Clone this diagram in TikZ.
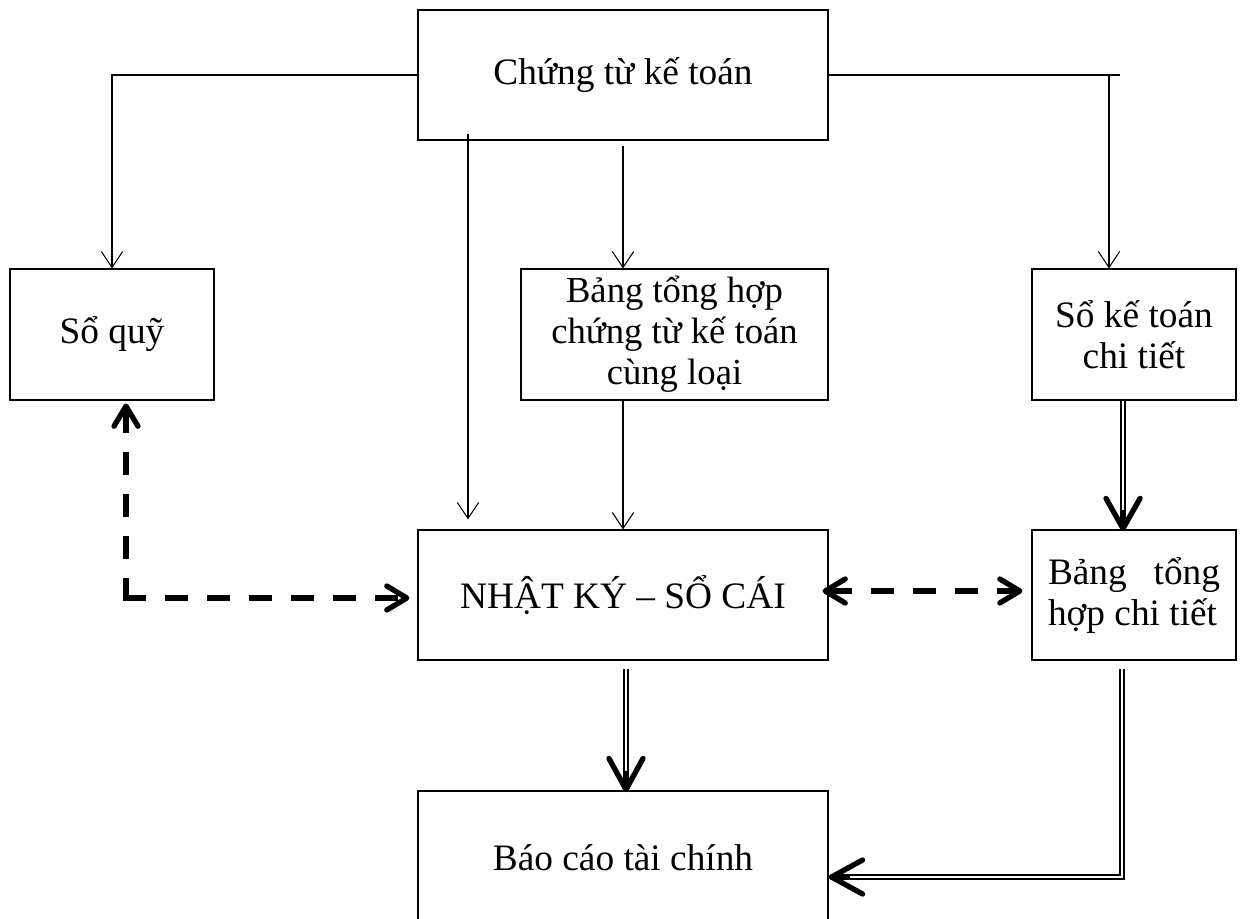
\documentclass[tikz,border=0pt]{standalone}
\usepackage{fontspec}
\setmainfont{Liberation Serif}
\usetikzlibrary{arrows.meta,calc}
\begin{document}
\begin{tikzpicture}[x=0.75pt,y=-0.75pt,
  box/.style={draw,line width=0.8pt,inner sep=0pt,align=center,font=\fontsize{28}{30.75}\selectfont},
  thinline/.style={line width=0.8pt},
  thinarrow/.style={line width=0.8pt,-{Straight Barb[length=12pt,width=16pt]}},
  dbl/.style={double,double distance=2pt,line width=1.4pt},
  barb/.style={line width=4pt,line cap=round,line join=round},
  dasharrow/.style={line width=4pt,line cap=rect,dash pattern=on 13.25pt off 18.25pt,
    >={Straight Barb[round,length=15pt,width=18pt]}}
]
\fill[white] (0,0) rectangle (1242,919);
\clip (0,0) rectangle (1242,919);

% boxes
\node[box,minimum width=307.5pt,minimum height=97.5pt] (top) at (623,75) {Chứng từ kế toán};
\node[box,minimum width=153pt,minimum height=98.25pt] (soquy) at (112,334.5) {Sổ quỹ};
\node[box,minimum width=230.25pt,minimum height=98.25pt,font=\fontsize{27.5}{30.75}\selectfont] (bth) at (674.5,334.5) {Bảng tổng hợp\\chứng từ kế toán\\cùng loại};
\node[box,minimum width=153pt,minimum height=98.25pt] (sktct) at (1134,334.5) {Sổ kế toán\\chi tiết};
\node[box,minimum width=307.5pt,minimum height=97.5pt] (nk) at (623,595) {NHẬT KÝ – SỔ CÁI};
\node[box,minimum width=153pt,minimum height=97.5pt] (bthct) at (1134,595) {\parbox{129pt}{Bảng\hfill tổng\\hợp chi tiết}};
\node[box,minimum width=307.5pt,minimum height=100.5pt] (bctc) at (623,858) {Báo cáo tài chính};

% thin flow lines from the source documents
\coordinate (rstub) at (1120,75);
\draw[thinarrow] (top.west) -| (soquy.north);
\draw[thinline] (top.east) -- (rstub);
\draw[thinarrow] (top.east) -| ($(sktct.north)+(-25,0)$);
\draw[thinarrow] ($(top.south)+(-155,-7)$) -- ($(nk.north)+(-155,-10)$);
\draw[thinarrow] ($(top.south)+(0,5)$) -- (top.south |- bth.north);
\draw[thinarrow] (top.south |- bth.south) -- (nk.north);

% double lines with heavy barbs
\draw[dbl] ($(sktct.south)+(-11,0)$) -- ($(bthct.north)+(-11,-14)$);
\draw[barb] ($(bthct.north)+(-11,-1)$) ++(-17,-30) -- ++(17,30) -- ++(17,-30);
\draw[barb] ($(bthct.north)+(-11,-1)$) -- ++(0,-16);

\draw[dbl] ($(nk.south)+(3,8)$) -- ($(bctc.north)+(3,-14)$);
\draw[barb] ($(bctc.north)+(3,-1)$) ++(-17,-31) -- ++(17,31) -- ++(17,-31);
\draw[barb] ($(bctc.north)+(3,-1)$) -- ++(0,-16);

\draw[dbl] ($(bthct.south)+(-12,8)$) |- ($(bctc.east)+(14,19)$);
\draw[barb] ($(bctc.east)+(3,19)$) ++(31,-17) -- ++(-31,17) -- ++(31,17);
\draw[barb] ($(bctc.east)+(3,19)$) -- ++(16,0);

% dashed cross-checks
\coordinate (dq) at ($(soquy.south |- nk.west)+(14,3)$);
\draw[dasharrow,->] (dq) -- ($(soquy.south)+(14,3)$);
\draw[dasharrow,->] (dq) -- ($(nk.west)+(-8,3)$);
\draw[dasharrow,<->] ($(bthct.west)+(-9,-4)$) -- ($(nk.east)+(-6,-4)$);
\end{tikzpicture}
\end{document}
